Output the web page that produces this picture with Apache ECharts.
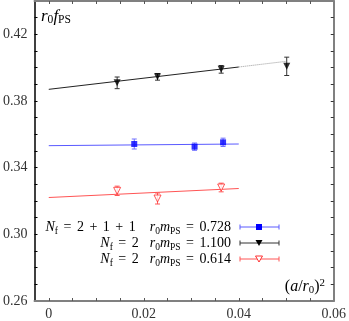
<!DOCTYPE html>
<html>
<head>
<meta charset="utf-8">
<script src="https://cdn.jsdelivr.net/npm/echarts@6/dist/echarts.min.js"></script>
<style>
  html, body { margin: 0; padding: 0; background: #fff; }
  #chart { width: 349px; height: 321px; }
</style>
</head>
<body>
<div id="chart"></div>
<script>
// data: [ (a/r0)^2, r0 fPS, error ]
const blueData = [[0.0180, 0.3542, 0.0030], [0.0307, 0.3526, 0.0022], [0.0367, 0.3552, 0.0025]];
const blackData = [[0.0144, 0.3909, 0.0035], [0.0229, 0.3945, 0.0020], [0.0363, 0.3990, 0.0023], [0.0501, 0.4008, 0.0055]];
const redData = [[0.0144, 0.3261, 0.0028], [0.0229, 0.3215, 0.0033], [0.0363, 0.3281, 0.0026]];

// fit lines
const fitX = [0, 0.04];
const blueFit = [0.3532, 0.3542];
const blackFit = [0.3870, 0.4004];
const redFit = [0.3221, 0.3275];
const blackExtX = [0.04, 0.05];
const blackExt = [0.4004, 0.4038];

// ticks
const xTickLabels = [0, 0.02, 0.04, 0.06];
const xTicks = [0, 0.005, 0.01, 0.015, 0.02, 0.025, 0.03, 0.035, 0.04, 0.045, 0.05, 0.055];
const yTickLabels = [0.26, 0.30, 0.34, 0.38, 0.42];
const yTicks = [0.27, 0.28, 0.29, 0.30, 0.31, 0.32, 0.33, 0.34, 0.35, 0.36, 0.37, 0.38, 0.39, 0.40, 0.41, 0.42, 0.43];

const SERIF = 'Liberation Serif';

const pairs = (xs, ys) => xs.map((x, i) => [x, ys[i]]);

const errBars = (data, color) => ({
    type: 'custom',
    data: data,
    z: 3,
    renderItem: (params, api) => {
        const x = api.value(0), y = api.value(1), e = api.value(2);
        const top = api.coord([x, y + e]);
        const bot = api.coord([x, y - e]);
        const st = { stroke: color, lineWidth: 1 };
        return {
            type: 'group',
            children: [
                { type: 'line', shape: { x1: top[0], y1: top[1], x2: bot[0], y2: bot[1] }, style: st },
                { type: 'line', shape: { x1: top[0] - 2.5, y1: top[1], x2: top[0] + 2.5, y2: top[1] }, style: st },
                { type: 'line', shape: { x1: bot[0] - 2.5, y1: bot[1], x2: bot[0] + 2.5, y2: bot[1] }, style: st }
            ]
        };
    }
});

const fitLine = (xs, ys, color, type) => ({
    type: 'line',
    data: pairs(xs, ys),
    symbol: 'none',
    z: 1,
    lineStyle: { color: color, width: 1, type: type || 'solid' }
});

const points = (data, symbol, size, itemStyle) => ({
    type: 'scatter',
    data: data.map(d => [d[0], d[1]]),
    symbol: symbol,
    symbolSize: size,
    symbolRotate: symbol === 'triangle' ? 180 : 0,
    itemStyle: itemStyle,
    z: 4
});

const mkRich = (fs) => ({
    it: { fontFamily: SERIF, fontStyle: 'italic', fontSize: fs, color: '#333', lineHeight: 18 },
    rm: { fontFamily: SERIF, fontSize: fs, color: '#333', lineHeight: 18 },
    op: { fontFamily: SERIF, fontSize: fs, color: '#333', lineHeight: 18, padding: [0, 5.5, 0, 5.5] },
    sub: { fontFamily: SERIF, fontSize: fs * 0.68, color: '#333', lineHeight: 8, verticalAlign: 'bottom' },
    sup: { fontFamily: SERIF, fontSize: fs * 0.68, color: '#333', lineHeight: 8, verticalAlign: 'top' },
    gap1: { width: 14, lineHeight: 18 },
    gap2: { width: 11, lineHeight: 18 }
});
const rich = mkRich(14);
const richAxis = mkRich(16);
const richTop = mkRich(17);
const tickRich = { n: { fontFamily: SERIF, fontSize: 14, color: '#333' } };

const legendRows = [
    { nf: '{rm|2}{op|+}{rm|1}{op|+}{rm|1}', gap: 'gap1', m: '0.728', y: 227, color: '#0000ff', line: '#5a5aff', marker: 'square' },
    { nf: '{rm|2}', gap: 'gap2', m: '1.100', y: 243, color: '#000', line: '#333', marker: 'tri' },
    { nf: '{rm|2}', gap: 'gap2', m: '0.614', y: 259, color: '#ff3030', line: '#ff5555', marker: 'open' }
];

const legendGraphic = [];
legendRows.forEach(r => {
    legendGraphic.push({
        type: 'text',
        style: {
            x: 231, y: r.y, align: 'right', verticalAlign: 'middle',
            text: '{it|N}{sub|f}{op|=}' + r.nf + '{' + r.gap + '| }{it|r}{sub|0}{it|m}{sub|PS}{op|=}{rm|' + r.m + '}',
            rich: rich
        }
    });
    const st = { stroke: r.line, lineWidth: 1 };
    legendGraphic.push({ type: 'line', shape: { x1: 240, y1: r.y, x2: 279, y2: r.y }, style: st });
    legendGraphic.push({ type: 'line', shape: { x1: 240, y1: r.y - 2.5, x2: 240, y2: r.y + 2.5 }, style: st });
    legendGraphic.push({ type: 'line', shape: { x1: 279, y1: r.y - 2.5, x2: 279, y2: r.y + 2.5 }, style: st });
    if (r.marker === 'square') {
        legendGraphic.push({ type: 'rect', shape: { x: 256, y: r.y - 3, width: 6, height: 6 }, style: { fill: r.color } });
    } else {
        legendGraphic.push({
            type: 'polygon',
            shape: { points: [[255.5, r.y - 3], [262.5, r.y - 3], [259, r.y + 3]] },
            style: r.marker === 'tri' ? { fill: '#000' } : { fill: '#fff', stroke: r.color, lineWidth: 1 }
        });
    }
});

const chart = echarts.init(document.getElementById('chart'));

const option = {
    animation: false,
    backgroundColor: '#fff',
    textStyle: { fontFamily: SERIF },
    grid: { left: 33, right: 15, top: 1, bottom: 18 },
    xAxis: [{
        type: 'value',
        min: -0.003,
        max: 0.06,
        splitLine: { show: false },
        axisLine: { show: true, onZero: false, lineStyle: { color: '#808080', width: 2 } },
        axisTick: { show: true, inside: true, length: 3, customValues: xTicks, lineStyle: { color: '#555' } },
        axisLabel: {
            customValues: xTickLabels,
            margin: 6,
            rich: tickRich,
            formatter: v => '{n|' + (v === 0 ? '0' : v.toFixed(2)) + '}'
        }
    }, {
        type: 'value',
        position: 'top',
        min: -0.003,
        max: 0.06,
        splitLine: { show: false },
        axisLine: { show: true, onZero: false, lineStyle: { color: '#808080', width: 2 } },
        axisTick: { show: true, inside: true, length: 3, customValues: xTicks, lineStyle: { color: '#555' } },
        axisLabel: { show: false }
    }],
    yAxis: [{
        type: 'value',
        min: 0.26,
        max: 0.44,
        splitLine: { show: false },
        axisLine: { show: true, onZero: false, lineStyle: { color: '#000', width: 1.5 } },
        axisTick: { show: true, inside: true, length: 3, customValues: yTicks, lineStyle: { color: '#000' } },
        axisLabel: {
            customValues: yTickLabels,
            margin: 7,
            rich: tickRich,
            formatter: v => '{n|' + v.toFixed(2) + '}'
        }
    }, {
        type: 'value',
        position: 'right',
        min: 0.26,
        max: 0.44,
        splitLine: { show: false },
        axisLine: { show: true, onZero: false, lineStyle: { color: '#808080', width: 2 } },
        axisTick: { show: true, inside: true, length: 3, customValues: yTicks, lineStyle: { color: '#333' } },
        axisLabel: { show: false }
    }],
    graphic: [
        {
            type: 'text',
            style: {
                x: 41, y: 17, verticalAlign: 'middle',
                text: '{it|r}{sub|0}{it|f}{sub|PS}',
                rich: richTop
            }
        },
        {
            type: 'text',
            style: {
                x: 325, y: 287, align: 'right', verticalAlign: 'middle',
                text: '{rm|(}{it|a}{rm|/}{it|r}{sub|0}{rm|)}{sup|2}',
                rich: richAxis
            }
        }
    ].concat(legendGraphic),
    series: [
        fitLine(fitX, blackFit, '#222'),
        fitLine(blackExtX, blackExt, '#999', 'dotted'),
        fitLine(fitX, blueFit, '#5a5aff'),
        fitLine(fitX, redFit, '#ff5555'),
        errBars(blackData, '#333'),
        errBars(blueData, '#7070ff'),
        errBars(redData, '#ff5555'),
        points(blackData, 'triangle', 7, { color: '#000' }),
        points(blueData, 'rect', 6, { color: '#0000ff' }),
        points(redData, 'triangle', 7, { color: '#fff', borderColor: '#ff3030', borderWidth: 1 })
    ]
};

chart.setOption(option);
window.addEventListener('resize', () => chart.resize());
</script>
</body>
</html>
